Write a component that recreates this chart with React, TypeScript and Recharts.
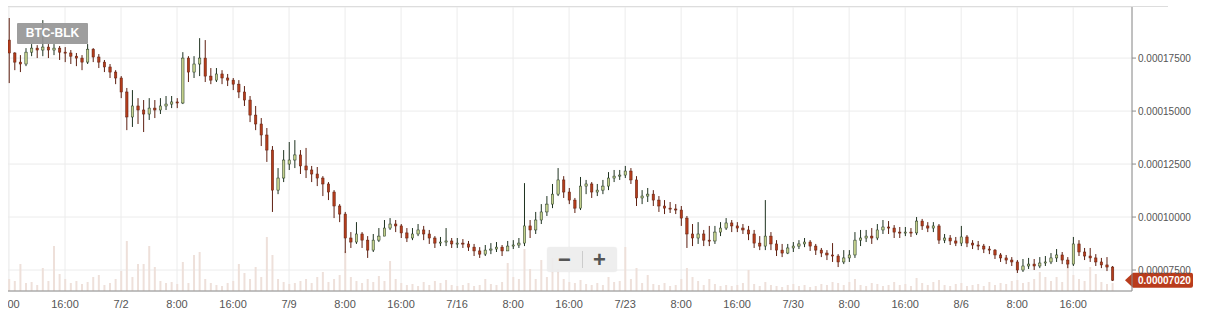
import React from 'react';
import { ComposedChart, Bar, XAxis, YAxis, CartesianGrid, ReferenceLine } from 'recharts';

// X-axis tick labels (placed every 10 candles)
const tickLabels = ['8:00', '16:00', '7/2', '8:00', '16:00', '7/9', '8:00', '16:00', '7/16', '8:00', '16:00', '7/23', '8:00', '16:00', '7/30', '8:00', '16:00', '8/6', '8:00', '16:00'];
const tickIndex = [0, 10, 20, 30, 40, 50, 60, 70, 80, 90, 100, 110, 120, 130, 140, 150, 160, 170, 180, 190];
const yTicks = [0.000075, 0.0001, 0.000125, 0.00015, 0.000175];

const openPrice = [
  0.0001835, 0.0001774, 0.0001731, 0.0001722, 0.0001778, 0.0001797, 0.0001788, 0.0001802, 0.0001788, 0.0001797,
  0.0001778, 0.0001774, 0.0001759, 0.000175, 0.0001731, 0.0001792, 0.0001755, 0.0001731, 0.0001708, 0.0001684,
  0.0001656, 0.000159, 0.0001472, 0.0001524, 0.0001505, 0.0001486, 0.0001514, 0.0001505, 0.0001524, 0.0001533,
  0.0001543, 0.0001538, 0.000175, 0.0001684, 0.0001722, 0.000175, 0.0001665, 0.0001646, 0.0001675, 0.0001656,
  0.0001646, 0.0001627, 0.000159, 0.0001552, 0.0001481, 0.0001439, 0.0001387, 0.0001316, 0.0001127, 0.0001184,
  0.000125, 0.0001269, 0.0001293, 0.0001241, 0.0001222, 0.0001203, 0.0001184, 0.0001156, 0.0001118, 0.0001052,
  0.0001014, 0.0000901, 0.0000882, 0.000092, 0.0000891, 0.0000844, 0.0000891, 0.000091, 0.0000948, 0.0000967,
  0.0000958, 0.0000925, 0.0000901, 0.000092, 0.0000939, 0.000092, 0.0000901, 0.0000877, 0.0000882, 0.0000887,
  0.0000873, 0.0000877, 0.0000873, 0.0000858, 0.000084, 0.0000825, 0.0000844, 0.0000849, 0.0000858, 0.000084,
  0.0000863, 0.0000868, 0.0000877, 0.0000958, 0.0000939, 0.0000986, 0.0001024, 0.0001061, 0.0001108, 0.0001175,
  0.0001118, 0.000108, 0.0001042, 0.0001146, 0.0001156, 0.0001118, 0.0001127, 0.0001146, 0.0001184, 0.0001193,
  0.0001198, 0.0001217, 0.0001175, 0.000109, 0.0001099, 0.0001108, 0.000108, 0.0001052, 0.0001042, 0.0001038,
  0.0001033, 0.0000995, 0.000092, 0.0000901, 0.000092, 0.0000891, 0.0000887, 0.0000929, 0.0000948, 0.0000972,
  0.0000958, 0.0000948, 0.0000939, 0.000092, 0.0000877, 0.0000863, 0.000091, 0.0000873, 0.0000844, 0.000083,
  0.0000854, 0.0000863, 0.0000873, 0.0000882, 0.0000863, 0.0000844, 0.000083, 0.0000821, 0.0000816, 0.0000788,
  0.0000807, 0.0000821, 0.0000891, 0.0000901, 0.000091, 0.0000901, 0.0000939, 0.0000953, 0.0000948, 0.0000929,
  0.0000925, 0.0000929, 0.0000925, 0.0000981, 0.0000958, 0.0000948, 0.0000958, 0.0000891, 0.0000901, 0.0000887,
  0.0000877, 0.0000906, 0.0000877, 0.0000868, 0.0000863, 0.0000849, 0.0000844, 0.0000821, 0.0000807, 0.0000797,
  0.0000788, 0.000075, 0.0000769, 0.0000778, 0.0000769, 0.0000783, 0.0000788, 0.0000807, 0.0000821, 0.0000797,
  0.0000778, 0.0000873, 0.0000835, 0.0000816, 0.0000807, 0.0000788, 0.0000774, 0.0000764,
];

const highPrice = [
  0.0001939, 0.0001778, 0.0001764, 0.0001797, 0.0001816, 0.0001811, 0.0001929, 0.0001816, 0.0001816, 0.0001807,
  0.0001802, 0.0001788, 0.0001774, 0.0001764, 0.0001816, 0.0001797, 0.0001769, 0.0001741, 0.0001722, 0.0001693,
  0.0001665, 0.0001609, 0.0001599, 0.0001561, 0.0001552, 0.0001561, 0.0001552, 0.0001561, 0.0001571, 0.0001571,
  0.0001561, 0.0001778, 0.0001759, 0.0001759, 0.0001844, 0.0001835, 0.0001703, 0.0001703, 0.0001693, 0.0001675,
  0.0001656, 0.0001646, 0.0001618, 0.0001571, 0.0001524, 0.0001467, 0.000142, 0.0001335, 0.0001231, 0.0001316,
  0.0001354, 0.0001363, 0.0001316, 0.0001326, 0.0001241, 0.0001236, 0.0001193, 0.0001165, 0.0001127, 0.0001061,
  0.0001024, 0.0000929, 0.0000976, 0.0000929, 0.000091, 0.000092, 0.0000948, 0.0000986, 0.0000995, 0.0000986,
  0.0000967, 0.0000948, 0.0000948, 0.0000967, 0.0000958, 0.0000939, 0.000091, 0.0000906, 0.0000948, 0.0000901,
  0.0000901, 0.0000896, 0.0000887, 0.0000873, 0.0000858, 0.0000868, 0.0000877, 0.0000882, 0.0000868, 0.0000887,
  0.0000891, 0.0000901, 0.000116, 0.0000986, 0.0001024, 0.0001061, 0.0001099, 0.0001156, 0.0001231, 0.0001193,
  0.0001137, 0.000109, 0.0001189, 0.0001175, 0.0001165, 0.0001156, 0.0001175, 0.0001212, 0.0001222, 0.0001222,
  0.0001241, 0.0001231, 0.0001193, 0.0001127, 0.0001137, 0.0001127, 0.0001099, 0.000108, 0.0001071, 0.0001061,
  0.0001052, 0.0001005, 0.0000967, 0.0000976, 0.0000939, 0.0000958, 0.0000958, 0.0000976, 0.0000995, 0.0000986,
  0.0000976, 0.0000967, 0.0000958, 0.0000939, 0.000091, 0.000108, 0.0000929, 0.0000891, 0.0000873, 0.0000873,
  0.0000882, 0.0000891, 0.0000901, 0.0000891, 0.0000873, 0.0000854, 0.0000844, 0.0000877, 0.0000825, 0.0000844,
  0.0000844, 0.0000929, 0.0000939, 0.0000939, 0.0000948, 0.0000967, 0.0000986, 0.0000981, 0.0000962, 0.0000953,
  0.0000953, 0.0000948, 0.0001, 0.0000991, 0.0000976, 0.0000976, 0.0000967, 0.000092, 0.0000915, 0.0000906,
  0.0000958, 0.0000915, 0.0000891, 0.0000887, 0.0000873, 0.0000863, 0.0000849, 0.000083, 0.0000821, 0.0000811,
  0.0000797, 0.0000802, 0.0000807, 0.0000802, 0.0000811, 0.0000816, 0.000083, 0.0000849, 0.0000835, 0.0000811,
  0.0000906, 0.0000891, 0.0000854, 0.0000854, 0.0000825, 0.0000807, 0.0000811, 0.0000769,
];

const lowPrice = [
  0.0001632, 0.0001693, 0.0001684, 0.0001712, 0.0001759, 0.000175, 0.0001759, 0.000175, 0.0001764, 0.0001741,
  0.0001731, 0.0001722, 0.0001712, 0.0001693, 0.0001722, 0.0001731, 0.0001703, 0.0001684, 0.0001656, 0.0001627,
  0.0001561, 0.000141, 0.0001425, 0.0001439, 0.0001401, 0.0001458, 0.0001467, 0.0001486, 0.0001505, 0.0001514,
  0.0001514, 0.0001533, 0.0001637, 0.0001656, 0.0001665, 0.0001637, 0.0001627, 0.0001637, 0.0001627, 0.0001618,
  0.0001599, 0.0001561, 0.0001524, 0.0001448, 0.000141, 0.0001335, 0.000126, 0.0001024, 0.0001108, 0.0001165,
  0.0001222, 0.0001231, 0.0001203, 0.0001184, 0.0001165, 0.0001146, 0.0001099, 0.000108, 0.0000995, 0.0000976,
  0.000083, 0.0000854, 0.0000873, 0.0000854, 0.0000807, 0.0000835, 0.0000882, 0.000091, 0.0000939, 0.0000929,
  0.0000901, 0.0000882, 0.0000891, 0.000091, 0.0000891, 0.0000873, 0.0000854, 0.0000863, 0.0000863, 0.0000854,
  0.0000854, 0.0000854, 0.000084, 0.0000816, 0.0000807, 0.0000816, 0.0000825, 0.0000835, 0.0000816, 0.000084,
  0.0000849, 0.0000854, 0.0000863, 0.0000901, 0.000092, 0.0000967, 0.0001005, 0.0001042, 0.0001099, 0.000109,
  0.0001061, 0.0001019, 0.0001033, 0.0001108, 0.000109, 0.0001099, 0.0001108, 0.0001127, 0.0001165, 0.0001175,
  0.0001184, 0.0001156, 0.0001052, 0.0001061, 0.0001071, 0.0001052, 0.0001024, 0.0001014, 0.0001019, 0.0001014,
  0.0000958, 0.0000854, 0.0000863, 0.0000873, 0.0000863, 0.0000863, 0.0000873, 0.000091, 0.0000939, 0.0000929,
  0.0000929, 0.000092, 0.0000891, 0.0000854, 0.0000844, 0.0000844, 0.0000844, 0.0000816, 0.0000811, 0.0000825,
  0.0000835, 0.0000849, 0.0000858, 0.000084, 0.0000821, 0.0000811, 0.0000797, 0.0000788, 0.0000764, 0.0000778,
  0.0000788, 0.0000807, 0.0000863, 0.0000882, 0.0000873, 0.0000891, 0.000092, 0.000092, 0.0000901, 0.0000901,
  0.000091, 0.0000906, 0.0000915, 0.0000939, 0.0000929, 0.0000929, 0.0000873, 0.0000877, 0.0000868, 0.0000863,
  0.0000863, 0.0000858, 0.0000849, 0.0000844, 0.000083, 0.0000825, 0.0000802, 0.0000788, 0.0000778, 0.0000769,
  0.0000736, 0.0000741, 0.0000755, 0.000075, 0.0000759, 0.0000769, 0.0000778, 0.0000788, 0.0000778, 0.0000759,
  0.0000769, 0.0000816, 0.0000797, 0.0000788, 0.0000769, 0.0000759, 0.0000745, 0.0000698,
];

const closePrice = [
  0.0001774, 0.0001731, 0.0001722, 0.0001778, 0.0001797, 0.0001788, 0.0001802, 0.0001788, 0.0001797, 0.0001778,
  0.0001774, 0.0001759, 0.000175, 0.0001731, 0.0001792, 0.0001755, 0.0001731, 0.0001708, 0.0001684, 0.0001656,
  0.000159, 0.0001472, 0.0001524, 0.0001505, 0.0001486, 0.0001514, 0.0001505, 0.0001524, 0.0001533, 0.0001543,
  0.0001538, 0.000175, 0.0001684, 0.0001722, 0.000175, 0.0001665, 0.0001646, 0.0001675, 0.0001656, 0.0001646,
  0.0001627, 0.000159, 0.0001552, 0.0001481, 0.0001439, 0.0001387, 0.0001316, 0.0001127, 0.0001184, 0.0001269,
  0.0001269, 0.0001293, 0.0001241, 0.0001222, 0.0001203, 0.0001184, 0.0001156, 0.0001118, 0.0001052, 0.0001014,
  0.0000901, 0.0000882, 0.000092, 0.0000891, 0.0000844, 0.0000891, 0.000091, 0.0000948, 0.0000967, 0.0000958,
  0.0000925, 0.0000901, 0.000092, 0.0000939, 0.000092, 0.0000901, 0.0000877, 0.0000882, 0.0000887, 0.0000873,
  0.0000877, 0.0000873, 0.0000858, 0.000084, 0.0000825, 0.0000844, 0.0000849, 0.0000858, 0.000084, 0.0000863,
  0.0000868, 0.0000877, 0.0000958, 0.0000939, 0.0000986, 0.0001024, 0.0001061, 0.0001108, 0.0001175, 0.0001118,
  0.000108, 0.0001042, 0.0001146, 0.0001156, 0.0001118, 0.0001127, 0.0001146, 0.0001184, 0.0001193, 0.0001198,
  0.0001217, 0.0001175, 0.000109, 0.0001099, 0.0001108, 0.000108, 0.0001052, 0.0001042, 0.0001038, 0.0001033,
  0.0000995, 0.000092, 0.0000901, 0.000092, 0.0000891, 0.0000887, 0.0000929, 0.0000948, 0.0000972, 0.0000958,
  0.0000948, 0.0000939, 0.000092, 0.0000877, 0.0000863, 0.000091, 0.0000873, 0.0000844, 0.000083, 0.0000854,
  0.0000863, 0.0000873, 0.0000882, 0.0000863, 0.0000844, 0.000083, 0.0000821, 0.0000816, 0.0000788, 0.0000807,
  0.0000821, 0.0000891, 0.0000901, 0.000091, 0.0000901, 0.0000939, 0.0000953, 0.0000948, 0.0000929, 0.0000925,
  0.0000929, 0.0000925, 0.0000981, 0.0000958, 0.0000948, 0.0000958, 0.0000891, 0.0000901, 0.0000887, 0.0000877,
  0.0000906, 0.0000877, 0.0000868, 0.0000863, 0.0000849, 0.0000844, 0.0000821, 0.0000807, 0.0000797, 0.0000788,
  0.000075, 0.0000769, 0.0000778, 0.0000769, 0.0000783, 0.0000788, 0.0000807, 0.0000821, 0.0000797, 0.0000778,
  0.0000873, 0.0000835, 0.0000816, 0.0000807, 0.0000788, 0.0000774, 0.0000764, 0.0000702,
];

const volume = [
  12, 10, 27, 8, 9, 6, 23, 10, 45, 17,
  12, 8, 10, 7, 9, 14, 16, 6, 8, 12,
  20, 50, 14, 27, 27, 45, 24, 10, 8, 9,
  7, 29, 8, 36, 39, 12, 8, 6, 5, 8,
  10, 27, 18, 12, 24, 14, 54, 36, 12, 9,
  7, 8, 10, 12, 8, 14, 19, 9, 12, 16,
  40, 14, 10, 8, 12, 9, 15, 10, 30, 12,
  8, 6, 7, 5, 9, 6, 10, 8, 11, 6,
  5, 6, 8, 5, 6, 12, 7, 6, 9, 28,
  14, 12, 42, 22, 12, 31, 14, 33, 22, 12,
  9, 8, 11, 7, 6, 8, 6, 14, 9, 10,
  44, 12, 23, 8, 16, 7, 6, 8, 5, 6,
  12, 23, 14, 10, 6, 12, 7, 5, 6, 5,
  6, 8, 21, 7, 5, 9, 6, 5, 4, 6,
  7, 5, 6, 4, 5, 7, 6, 9, 8, 6,
  9, 12, 6, 5, 8, 7, 5, 6, 9, 6,
  7, 5, 13, 8, 6, 9, 11, 6, 5, 7,
  8, 5, 6, 7, 5, 9, 6, 8, 7, 10,
  11, 8, 9, 12, 19, 14, 10, 14, 9, 26,
  16, 12, 10, 24, 17, 9, 7, 8,
];

const data = closePrice.map((c, i) => ({
  i,
  open: openPrice[i],
  high: highPrice[i],
  low: lowPrice[i],
  close: c,
  volume: volume[i],
}));

const lastClose = closePrice[closePrice.length - 1];
const FONT = '"Liberation Sans", Arial, sans-serif';

const Candle = (props: any) => {
  const { x, y, width, height, payload } = props;
  if (!payload || x == null) return null;
  const { open, close, high, low } = payload;
  const top = Math.min(y, y + height);
  const bot = Math.max(y, y + height);
  const span = high - low || 1;
  const py = (v: number) => top + ((high - v) / span) * (bot - top);
  const cx = x + width / 2;
  const up = close >= open;
  const bTop = py(Math.max(open, close));
  const bBot = py(Math.min(open, close));
  const bw = 2.4;
  const stroke = up ? '#1f3320' : '#5e1f10';
  const fill = up ? '#c3d08c' : '#b33c1b';
  return (
    <g>
      <line x1={cx} x2={cx} y1={top} y2={bot} stroke={stroke} strokeWidth={1} />
      <rect x={cx - bw / 2} y={bTop} width={bw} height={Math.max(1, bBot - bTop)} fill={fill} stroke={stroke} strokeWidth={0.5} />
    </g>
  );
};

const PriceTag = (props: any) => {
  const vb = props.viewBox || {};
  const right = (vb.x || 0) + (vb.width || 0);
  const cy = vb.y || 0;
  const tip = right - 7;
  const l = right + 1;
  const r = right + 61;
  const h = 7.5;
  return (
    <g>
      <path d={`M${tip},${cy} L${l},${cy - h} L${r - 2},${cy - h} Q${r},${cy - h} ${r},${cy - h + 2} L${r},${cy + h - 2} Q${r},${cy + h} ${r - 2},${cy + h} L${l},${cy + h} Z`} fill="#b93c1c" />
      <text x={right + 6} y={cy + 3.6} fill="#ffffff" fontSize={10} fontFamily={FONT} fontWeight="bold">
        {lastClose.toFixed(8)}
      </text>
    </g>
  );
};

export default function App() {
  return (
    <div style={{ position: 'absolute', left: 8, top: 0, width: 1202, height: 336, overflow: 'hidden', background: '#fff', fontFamily: FONT }}>
      <ComposedChart width={1202} height={336} data={data} margin={{ top: 7, right: 0, bottom: 15, left: 0 }}>
        <CartesianGrid xAxisId="p" yAxisId="p" stroke="#ececec" />
        <XAxis
          xAxisId="p"
          dataKey="i"
          type="number"
          domain={[-0.18, 200.5]}
          allowDataOverflow
          ticks={tickIndex}
          interval={0}
          tickFormatter={(v: number) => tickLabels[tickIndex.indexOf(v)] ?? ''}
          tickLine={false}
          axisLine={{ stroke: '#8c8c8c' }}
          tick={{ fill: '#555', fontSize: 11, fontFamily: FONT }}
          tickSize={6}
          tickMargin={3}
          height={30}
        />
        <XAxis xAxisId="v" dataKey="i" type="number" domain={[-0.18, 200.5]} allowDataOverflow hide />
        <YAxis
          yAxisId="p"
          orientation="right"
          domain={[0.0000651, 0.0001991]}
          allowDataOverflow
          ticks={yTicks}
          interval={0}
          tickFormatter={(v: number) => v.toFixed(8)}
          width={78}
          tick={{ fill: '#555', fontSize: 10, fontFamily: FONT }}
          axisLine={{ stroke: '#8c8c8c' }}
          tickLine={{ stroke: '#8c8c8c' }}
          tickSize={4}
          tickMargin={2}
        />
        <YAxis yAxisId="v" domain={[0, 284]} hide />
        <Bar xAxisId="v" yAxisId="v" dataKey="volume" barSize={2} fill="#eee0da" isAnimationActive={false} />
        <Bar
          xAxisId="p"
          yAxisId="p"
          dataKey={(d: any) => [d.low, d.high]}
          barSize={4}
          shape={(p: any) => <Candle {...p} />}
          isAnimationActive={false}
        />
        <ReferenceLine xAxisId="p" yAxisId="p" y={lastClose} stroke="none" label={(p: any) => <PriceTag {...p} />} />
      </ComposedChart>
      {/* top frame line */}
      <div style={{ position: 'absolute', left: 0, top: 6, width: 1160, height: 1, background: '#dddddd' }} />
      {/* series name tag */}
      <div
        style={{
          position: 'absolute', left: 9, top: 23, width: 71, height: 21, background: 'rgba(150,150,150,0.92)',
          color: '#fff', fontSize: 12, fontWeight: 'bold', lineHeight: '21px', textAlign: 'center', borderRadius: 1,
        }}
      >
        BTC-BLK
      </div>
      {/* zoom buttons */}
      <div
        style={{
          position: 'absolute', left: 539, top: 247, width: 70, height: 25, background: 'rgba(236,236,236,0.9)',
          borderRadius: 3, boxShadow: '0 0 1px rgba(0,0,0,0.12)',
        }}
      >
        <div style={{ position: 'absolute', left: 0, top: 0, width: 35, height: 25, lineHeight: '25px', textAlign: 'center', color: '#555', fontSize: 22, fontWeight: 'bold' }}>−</div>
        <div style={{ position: 'absolute', left: 35, top: 4, width: 1, height: 17, background: '#cccccc' }} />
        <div style={{ position: 'absolute', left: 35, top: 0, width: 35, height: 25, lineHeight: '25px', textAlign: 'center', color: '#555', fontSize: 22, fontWeight: 'bold' }}>+</div>
      </div>
    </div>
  );
}
